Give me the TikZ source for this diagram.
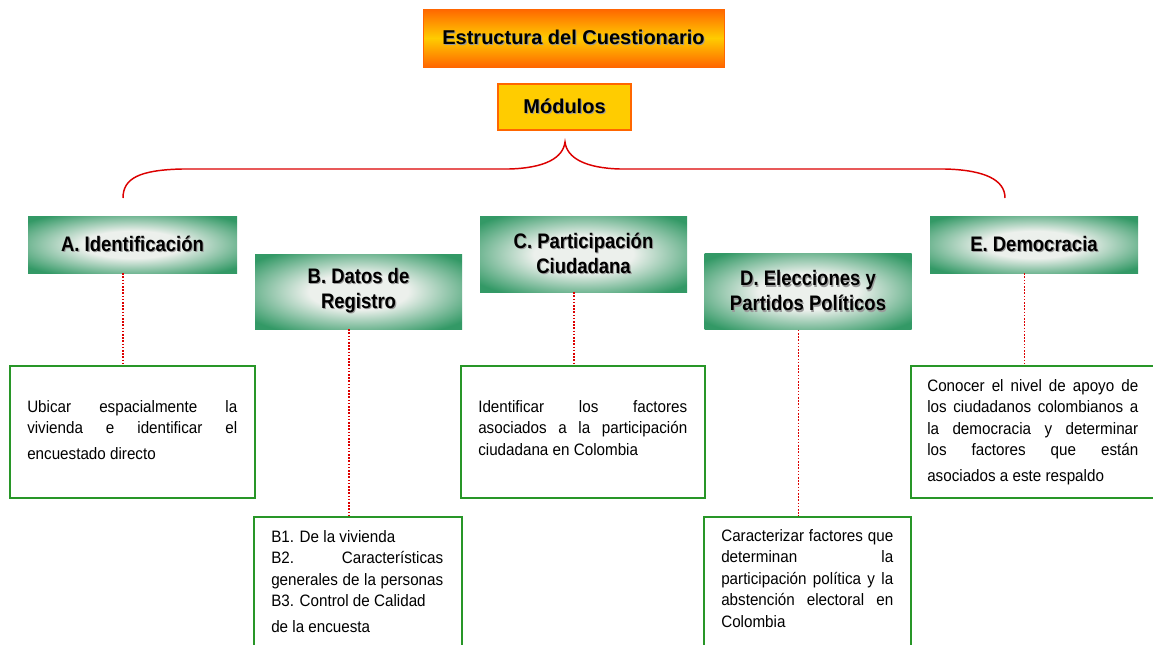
\documentclass[tikz,border=0pt]{standalone}
\usepackage{fontspec}
\setmainfont{Liberation Sans}
\newfontfamily\hdrfont[FakeStretch=0.88]{Liberation Sans}
\newfontfamily\bodyfont[FakeStretch=0.92]{Liberation Sans}
\newdimen\pxu \pxu=0.75pt
\definecolor{hgreen}{RGB}{51,153,102}
\definecolor{hcenter}{RGB}{236,240,236}
\definecolor{borange}{RGB}{255,102,0}
\definecolor{byellow}{RGB}{255,204,0}
\definecolor{bgreen}{RGB}{40,150,40}
\definecolor{lred}{RGB}{220,0,0}
\pgfdeclareradialshading{hdrshade}{\pgfpoint{0bp}{0bp}}{color(0bp)=(hcenter); color(12bp)=(hcenter); color(32bp)=(hgreen); color(50bp)=(hgreen)}
\newcommand\shd[1]{\leavevmode\rlap{\kern0.8pt\raisebox{-0.8pt}{\textcolor{black!40}{#1}}}#1}
\tikzset{
  titlebox/.style={top color=borange, bottom color=borange, middle color=byellow, draw=borange, line width=0.6pt, inner sep=0, font=\bfseries\fontsize{15pt}{18pt}\selectfont},
  modbox/.style={fill=byellow, draw=borange, line width=1.1pt, inner sep=0, font=\bfseries\fontsize{15pt}{18pt}\selectfont},
  hdr/.style={shade, shading=hdrshade, inner sep=0, align=center, font=\hdrfont\bfseries\fontsize{15.75pt}{18.75pt}\selectfont},
  bodybox/.style={draw=bgreen, line width=1.1pt, fill=white, inner sep=0},
  bodytxt/.style={anchor=north west, inner sep=0, align=left, font=\bodyfont\fontsize{12.4pt}{16.125pt}\selectfont},
  conn/.style={draw=lred, line width=0.8pt, dash pattern=on 1.2pt off 1.2pt},
  bracepath/.style={draw=lred, line width=1.1pt}
}
\begin{document}
\begin{tikzpicture}[x=0.75pt,y=-0.75pt]
\useasboundingbox (0,0) rectangle (1153,644);
\clip (0,0) rectangle (1153,644);
\fill[white] (0,0) rectangle (1153,644);

% title and modules
\node[titlebox, minimum width=301\pxu, minimum height=58\pxu] (title) at (573.5,38) {\shd{Estructura del Cuestionario}};
\node[modbox, minimum width=133\pxu, minimum height=46\pxu] (mod) at (564.5,107) {\shd{Módulos}};

% brace
\draw[bracepath] (123,198) .. controls (123,178) and (140,170) .. (182,169) -- (509,169)
  .. controls (545,168) and (563,158) .. (565,142)
  .. controls (567,158) and (585,168) .. (620,169) -- (945,169)
  .. controls (985,170) and (1005,180) .. (1005,198);

% headers
\node[hdr, minimum width=209\pxu, minimum height=57\pxu] (hA) at (132.5,244.5) {\shd{A. Identificación}};
\node[hdr, minimum width=207\pxu, minimum height=75\pxu] (hB) at (358.5,291.5) {\shd{B. Datos de}\\\shd{Registro}};
\node[hdr, minimum width=207\pxu, minimum height=76\pxu] (hC) at (583.5,254) {\shd{C. Participación}\\\shd{Ciudadana}};
\node[hdr, minimum width=207\pxu, minimum height=76\pxu] (hD) at (808,291.5) {\shd{D. Elecciones y}\\\shd{Partidos Políticos}};
\node[hdr, minimum width=208\pxu, minimum height=57\pxu] (hE) at (1034,244.5) {\shd{E. Democracia}};

% body boxes
\node[bodybox, minimum width=245\pxu, minimum height=132\pxu] (bA) at (132.5,432) {};
\node[bodybox, minimum width=208\pxu, minimum height=143\pxu] (bB) at (358,588.5) {};
\node[bodybox, minimum width=244\pxu, minimum height=132\pxu] (bC) at (583,432) {};
\node[bodybox, minimum width=207\pxu, minimum height=143\pxu] (bD) at (807.5,588.5) {};
\node[bodybox, minimum width=254\pxu, minimum height=132\pxu] (bE) at (1038,432) {};

% connectors
\foreach \h/\b in {hA/bA,hB/bB,hC/bC,hD/bD,hE/bE}{
  \draw[conn] ([xshift=-9.5\pxu]\h.south) -- ([xshift=-9.5\pxu]\h.south |- \b.north);
}

% body texts
\node[bodytxt] (tA) at (27,396.7) {\strut\makebox[157.5pt][s]{Ubicar espacialmente la}\\
  \makebox[157.5pt][s]{vivienda e identificar el}\\[3.4pt]
  encuestado directo};
\node[bodytxt] (tB) at (271,526.7) {\strut B1. De la vivienda\\
  \makebox[129pt][s]{B2. Características}\\
  \makebox[129pt][s]{generales de la personas}\\
  B3. Control de Calidad\\[3.4pt]
  de la encuesta};
\node[bodytxt] (tC) at (478,396.7) {\strut\makebox[156.75pt][s]{Identificar los factores}\\
  \makebox[156.75pt][s]{asociados a la participación}\\
  ciudadana en Colombia};
\node[bodytxt] (tD) at (721,526) {\strut\makebox[129pt][s]{Caracterizar factores que}\\
  \makebox[129pt][s]{determinan la}\\
  \makebox[129pt][s]{participación política y la}\\
  \makebox[129pt][s]{abstención electoral en}\\
  Colombia};
\node[bodytxt] (tE) at (927,376) {\strut\makebox[158.25pt][s]{Conocer el nivel de apoyo de}\\
  \makebox[158.25pt][s]{los ciudadanos colombianos a}\\
  \makebox[158.25pt][s]{la democracia y determinar}\\
  \makebox[158.25pt][s]{los factores que están}\\[3.4pt]
  asociados a este respaldo};
\end{tikzpicture}
\end{document}
